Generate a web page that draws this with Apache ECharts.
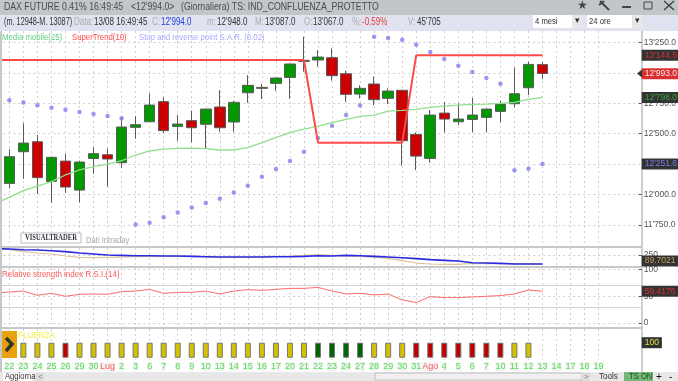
<!DOCTYPE html>
<html>
<head>
<meta charset="utf-8">
<style>
  html, body { margin: 0; padding: 0; background: #fff; width: 678px; height: 381px; overflow: hidden; }
  /* chart starts left of the window so the lines can run in from the previous session */
  #chart { position: absolute; left: -12px; top: 0; width: 690px; height: 381px; }
</style>
<script src="https://cdn.jsdelivr.net/npm/echarts@6/dist/echarts.min.js"></script>
</head>
<body>
<div id="chart"></div>
<script>
// first category is the session before the visible window
const days = ['', '22','23','24','25','26','29','30','Lug','2','3','6','7','8','9','10','13','14','15','16','17','20','21','22','23',
  '24','27','28','29','30','31','Ago','4','5','6','7','10','11','12','13','14','17','18','19','','',''];
const months = ['Lug', 'Ago'];

const opens = [12092,12352,12434,12108,12275,12037,12297,12327,12262,12552,12598,12763,12560,12607,12577,12719,12596,12836,12880,12913,12962,13102,13105,13124,12992,12825,12908,12790,12856,12494,12297,12669,12598,12617,12634,12683,12746,12877,13067];
const closes = [12311,12423,12139,12306,12062,12267,12336,12292,12555,12574,12735,12525,12579,12549,12702,12549,12757,12897,12872,12957,13072,13094,13129,12976,12823,12872,12779,12850,12442,12316,12653,12620,12620,12653,12702,12743,12828,13069,12994];
const lows = [12051,12130,12004,11933,12013,11936,12171,12065,12218,12459,12598,12503,12442,12429,12379,12516,12516,12754,12784,12853,12787,13009,13050,12935,12763,12790,12735,12743,12237,12201,12264,12511,12571,12511,12511,12593,12716,12817,12948];
const highs = [12371,12585,12489,12310,12336,12278,12388,12379,12634,12645,12831,12798,12653,12689,12702,12858,12771,12981,12908,12960,13077,13296,13187,13200,13017,12897,12968,12872,12860,12511,12694,12757,12749,12793,12705,12771,13042,13091,13087];

const mediaMobile = [11928,11977,12032,12070,12106,12161,12202,12229,12251,12278,12325,12358,12374,12379,12382,12377,12366,12366,12385,12426,12467,12508,12538,12563,12590,12617,12642,12653,12686,12691,12700,12716,12727,12735,12741,12743,12749,12757,12782,12798];
const superTrend = [13105,13105,13105,13105,13105,13105,13105,13105,13105,13105,13105,13105,13105,13105,13105,13105,13105,13105,13105,13105,13105,13105,13105,12426,12426,12426,12426,12426,12426,12426,13144.5,13144.5,13144.5,13144.5,13144.5,13144.5,13144.5,13144.5,13144.5,13144.5];
const sar = [null,12774,12757,12733,12713,12697,12678,12661,12645,12626,11755,11769,11813,11854,11895,11931,11966,12018,12073,12147,12210,12275,12352,12464,12566,12653,12732,13296,13285,13272,13231,13170,13113,13058,13006,12957,12910,12199,12212,12251.6];

const oscBlue = [363,357,345,339,327,310,286,268,250,244,238,238,232,232,226,220,214,214,214,214,220,220,226,238,232,244,238,226,214,202,185,167,155,143,113,107,101,89.7,89.7,89.7];
const oscTan = [363,345,310,286,268,232,208,202,208,214,220,226,232,226,226,220,214,214,214,220,226,232,244,256,244,238,226,214,190,149,107,90,83,83,101,95,95,95,95,89.7];

const rsi = [55.5,58.0,59.8,51.8,55.5,50.0,53.7,54.3,53.7,58.6,59.8,62.9,55.5,57.4,57.4,59.8,54.3,59.8,62.3,61.1,62.9,64.8,64.8,66.6,59.8,54.3,55.5,52.4,54.3,43.2,38.3,49.4,47.5,47.5,48.7,50.0,51.2,54.3,61.7,59.4176];

// y = neutral, r = short, g = long, one per day from the first 22
const signals = ['y','y','y','y','r','y','y','y','y','y','y','y','y','y','y','y','y','y','y','y','y','y','g','g','g','g','y','y','y','r','r','r','r','r','r','r','y','y'];
const signalValue = 100;

const mainTicks = [11750,12000,12250,12500,12750,13000,13250];
const mainLabels = [11750,12000,12500,12750,13250];
const rsiTicks = [0,50,100];

const signalColors = { y: '#d2c200', r: '#c00000', g: '#006400' };
const gridColor = '#cfcfcf';
const uiFont = '"Liberation Sans", Arial, sans-serif';

const fmt = (v, dec) => {
  const s = v.toFixed(dec).split('.');
  const whole = s[0].replace(/\B(?=(\d{3})+$)/g, "'");
  return dec ? whole + '.' + s[1] : whole;
};

const candles = opens.map((o, i) => [o, closes[i], lows[i], highs[i]]);

const gridBox = (top, height) => ({ left: 0.3, width: 659.4, top, height, outerBoundsMode: 'none' });
const grids = [gridBox(31, 215), gridBox(248, 18), gridBox(268, 59), gridBox(329, 31)];

const xAxis = grids.map((g, i) => ({
  type: 'category',
  gridIndex: i,
  data: days,
  boundaryGap: true,
  axisLine: { show: false },
  axisTick: { show: false },
  splitLine: {
    show: true,
    alignWithLabel: true,
    interval: (idx, v) => v !== '',
    lineStyle: { color: gridColor, type: [2, 3], width: 1 }
  },
  axisLabel: {
    show: i === 3,
    interval: 0,
    margin: 2,
    fontFamily: uiFont,
    fontSize: 9,
    backgroundColor: '#f3f3f3',
    color: v => months.includes(v) ? '#ff5a5a' : '#4fe04f'
  }
}));

// grid lines, behind the series
const splitAxis = (gridIndex, min, max, ticks) => ({
  type: 'value', gridIndex, min, max, position: 'right',
  axisLine: { show: false },
  axisTick: { show: false, customValues: ticks },
  axisLabel: { show: false, customValues: ticks },
  splitLine: { show: true, lineStyle: { color: gridColor, type: [2, 3], width: 1 } }
});
// scale labels, above the white right-hand panel
const labelAxis = (gridIndex, min, max, ticks, dec) => ({
  type: 'value', gridIndex, min, max, position: 'right', offset: -6, z: 10,
  axisLine: { show: false },
  axisTick: { show: true, inside: true, length: 3, lineStyle: { color: '#555' }, customValues: ticks },
  splitLine: { show: false },
  axisLabel: {
    customValues: ticks, margin: 2, fontFamily: uiFont, fontSize: 8.5, color: '#555',
    formatter: v => fmt(v, dec)
  }
});
// last-value tags
const tagAxis = (gridIndex, min, max, tags, extra) => {
  const tagOf = v => tags.find(t => Number(t.value) === Number(v)) || tags[0];
  return {
    type: 'value', gridIndex, min, max, position: 'right', offset: -6, z: 11,
    axisLine: { show: false },
    axisTick: { show: false, customValues: tags.map(t => t.value) },
    splitLine: { show: false },
    axisLabel: Object.assign({
      customValues: tags.map(t => t.value), margin: 0, fontFamily: uiFont, fontSize: 8.5,
      backgroundColor: '#333',
      padding: [1, 12, 0, 3],
      lineHeight: 10,
      color: v => tagOf(v).color,
      formatter: v => tagOf(v).text
    }, extra)
  };
};

const mainMin = 11578, mainMax = 13343;
const oscMin = 54, oscMax = 375;
const rsiMin = -7.5, rsiMax = 102.9;
const sigMin = -15, sigMax = 191;

const yAxis = [
  splitAxis(0, mainMin, mainMax, mainTicks),
  labelAxis(0, mainMin, mainMax, mainLabels, 1),
  tagAxis(0, mainMin, mainMax, [
    { value: 13144.5, text: "13'144.5", color: '#d83030' },
    { value: 12798, text: "12'798.0", color: '#3fa03f' },
    { value: 12251.6, text: "12'251.6", color: '#7a7ae8' }
  ]),
  splitAxis(1, oscMin, oscMax, [250]),
  labelAxis(1, oscMin, oscMax, [250], 0),
  // tag rides a little above the line end, same as the platform
  tagAxis(1, 0.4, 321.8, [{ value: 89.7021, text: '89.7021', color: '#c0a060' }]),
  splitAxis(2, rsiMin, rsiMax, rsiTicks),
  labelAxis(2, rsiMin, rsiMax, rsiTicks, 0),
  tagAxis(2, rsiMin, rsiMax, [{ value: 59.4176, text: '59.4176', color: '#d83030' }]),
  splitAxis(3, sigMin, sigMax, []),
  tagAxis(3, sigMin, sigMax, [{ value: signalValue, text: '100', color: '#e8e040' }], { padding: [1, 3, 0, 3] })
];
// red price tag sits on its own axis
yAxis.push(tagAxis(0, mainMin, mainMax, [{ value: closes[closes.length - 1] - 1, text: "12'993.0", color: '#fbe4e4' }], { backgroundColor: '#d83030' }));

const series = [
  {
    name: 'Candele', type: 'candlestick', xAxisIndex: 0, yAxisIndex: 0, barWidth: 11,
    data: [['-', '-', '-', '-'], ...candles],
    itemStyle: { color: '#009a00', color0: '#cc0000', borderColor: '#5a5a5a', borderColor0: '#5a5a5a', borderWidth: 1 }
  },
  {
    name: 'Media mobile(25)', type: 'line', xAxisIndex: 0, yAxisIndex: 0, data: mediaMobile, symbol: 'none',
    lineStyle: { color: '#8ee08e', width: 1.3 }
  },
  {
    name: 'SuperTrend(10)', type: 'line', xAxisIndex: 0, yAxisIndex: 0, data: superTrend, symbol: 'none',
    lineStyle: { color: '#ff4a4a', width: 2 }
  },
  {
    name: 'S.A.R.', type: 'scatter', xAxisIndex: 0, yAxisIndex: 0, data: sar, symbolSize: 4.5,
    itemStyle: { color: '#7f7ff0' }
  },
  {
    name: 'osc2', type: 'line', xAxisIndex: 1, yAxisIndex: 3, data: oscTan, symbol: 'none',
    lineStyle: { color: '#dcc59a', width: 1.2 }
  },
  {
    name: 'osc1', type: 'line', xAxisIndex: 1, yAxisIndex: 3, data: oscBlue, symbol: 'none',
    lineStyle: { color: '#2a2ae0', width: 1.6 }
  },
  {
    name: 'R.S.I.', type: 'line', xAxisIndex: 2, yAxisIndex: 6, data: rsi, symbol: 'none',
    lineStyle: { color: '#ff6a6a', width: 1 },
    markLine: {
      silent: true, symbol: 'none', label: { show: false },
      lineStyle: { color: '#d4d4d4', type: 'solid', width: 1 },
      data: [{ yAxis: 30 }, { yAxis: 70 }]
    }
  },
  {
    name: 'Confluenza', type: 'bar', xAxisIndex: 3, yAxisIndex: 9, barWidth: 6,
    data: [null, ...signals.map(s => ({
      value: signalValue,
      itemStyle: { color: signalColors[s], borderColor: '#777', borderWidth: 1 }
    }))]
  }
];

// the platform font is narrower than anything installed, so squeeze the text a bit
const text = (x, y, str, fill, size, squeeze, font) => ({
  type: 'text', z: 30, silent: true, x, y, scaleX: squeeze || 1,
  style: { text: str, fill, font: font || `${size || 9.5}px ${uiFont}`, verticalAlign: 'middle' }
});
const bar = (x, y, str, fill) => text(x, y, str, fill, 10, 0.8);
const box = (x, y, width, height, fill, z, stroke) => ({
  type: 'rect', z: z || 20, silent: true,
  shape: { x, y, width, height },
  style: { fill, stroke: stroke || null, lineWidth: stroke ? 1 : 0 }
});
const stroke = (x1, y1, x2, y2, lineWidth) => ({
  type: 'line', z: 30, silent: true, shape: { x1, y1, x2, y2 }, style: { stroke: '#444', lineWidth }
});

const dark = '#333', grey = '#aaa';
const chrome = [
  // right panel and frame
  box(642, 31, 36, 341, '#fff', 5),
  box(641, 31, 2, 341, '#cfcfcf', 6),
  box(0, 31, 2, 341, '#c8c8c8', 6),
  box(0, 246, 642, 2, '#c8c8c8', 6),
  box(0, 266, 642, 2, '#c8c8c8', 6),
  box(0, 327, 642, 2, '#c8c8c8', 6),
  // title bar
  box(0, 0, 678, 15, '#c3c6c8'),
  text(4, 7, 'DAX FUTURE 0.41% 16:49:45', '#4a4a4a', 10.5, 0.83),
  text(131, 7, "<12'994.0>", '#4a4a4a', 10.5, 0.83),
  text(181, 7, '(Giornaliera) TS: IND_CONFLUENZA_PROTETTO', '#4a4a4a', 10.5, 0.83),
  text(577, 6, '★', '#444', 12),
  stroke(600, 1, 609, 10, 2),
  stroke(599, 5, 604, 1, 2),
  box(622, 6, 9, 2, '#444', 30),
  box(644, 2, 8, 7, 'none', 30, '#444'),
  stroke(664, 1, 674, 10, 1.5),
  stroke(674, 1, 664, 10, 1.5),
  // quote bar
  box(0, 15, 678, 16, '#e0e3ef'),
  text(4, 22, '(m. 12948-M. 13087)', dark, 10, 0.73),
  bar(74, 22, 'Data:', grey),
  bar(94, 22, '13/08 16:49:45', dark),
  bar(152, 22, 'C:', grey),
  bar(161, 22, "12'994.0", '#2040e0'),
  bar(207, 22, 'm:', grey),
  bar(217, 22, "12'948.0", dark),
  bar(255, 22, 'M:', grey),
  bar(265, 22, "13'087.0", dark),
  bar(304, 22, 'O:', grey),
  bar(313, 22, "13'067.0", dark),
  bar(352, 22, '%:', grey),
  bar(362, 22, '-0.59%', '#e04040'),
  bar(408, 22, 'V:', grey),
  bar(417, 22, "45'705", dark),
  box(533, 15, 50, 13, '#fff'),
  box(572, 15, 11, 13, '#e8e8e8'),
  text(535, 21.5, '4 mesi', dark, 9, 0.85),
  text(575, 21, '▾', dark, 9),
  box(587, 15, 45, 13, '#fff'),
  box(633, 15, 10, 13, '#e8e8e8'),
  text(589, 21.5, '24 ore', dark, 9, 0.85),
  text(635, 21, '▾', dark, 9),
  // indicator captions
  text(2, 37, 'Media mobile(25)', '#5fd07f', 9.5, 0.82),
  text(72, 37, 'SuperTrend(10)', '#ff4a4a', 9.5, 0.82),
  text(139, 37, 'Stop and reverse point S.A.R. (0.02)', '#a8a8ff', 9.5, 0.82),
  text(2, 274, 'Relative strength index R.S.I.(14)', '#ff5a5a', 9.5, 0.84),
  box(21, 233, 60, 10, '#fff', 20, '#bbb'),
  text(25, 238, 'VISUALTRADER', '#334', 8, 0.82, 'bold 8px "Liberation Serif", serif'),
  text(86, 241, 'Dati Intraday', '#aaa', 8.5, 0.9),
  // confluenza box
  text(18, 335, 'FLUENZA', '#f6f040', 9.5, 0.85),
  box(2, 331, 15, 27, '#e8a30c', 25),
  { type: 'polyline', z: 30, silent: true, shape: { points: [[6, 338], [12, 344], [6, 351]] }, style: { stroke: '#333', lineWidth: 3.5, fill: null } },
  // bottom bar
  box(0, 372, 678, 9, '#e8e8e8', 20),
  box(3, 373, 30, 8, '#fff', 21),
  text(5, 377, 'Aggiorna', '#333', 9, 0.85),
  box(36, 373, 8, 8, '#dcdcdc', 21),
  text(38, 377, '<', '#777', 8),
  box(375, 373, 207, 7, '#f0f0f0', 21, '#c0c0c0'),
  box(582, 373, 8, 8, '#dcdcdc', 21),
  text(584, 377, '>', '#777', 8),
  text(599, 377, 'Tools', '#333', 9, 0.9),
  box(624, 372, 29, 9, '#74b878', 21),
  text(629, 377, 'TS ON', '#1f4a1f', 9, 0.85),
  text(656, 377, '+', '#111', 10),
  text(669, 377, '-', '#111', 10)
];

const chart = echarts.init(document.getElementById('chart'), null, { renderer: 'canvas' });
chart.setOption({
  animation: false,
  backgroundColor: '#fff',
  grid: grids,
  xAxis,
  yAxis,
  series
});

// little pointer beside the price tag
const tagY = chart.convertToPixel({ yAxisIndex: 0 }, closes[closes.length - 1]);
chart.setOption({
  graphic: {
    type: 'group', x: 12, y: 0,
    children: chrome.concat([{
      type: 'polygon', z: 30, silent: true,
      shape: { points: [[637, tagY], [642, tagY - 4], [642, tagY + 4]] },
      style: { fill: '#333' }
    }])
  }
});
</script>
</body>
</html>
